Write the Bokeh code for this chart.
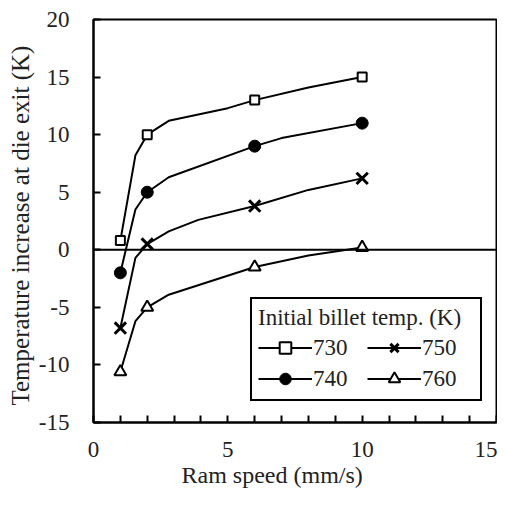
from bokeh.plotting import figure
from bokeh.models import (FixedTicker, Span, Legend, LegendItem, Title, Range1d)
from bokeh.embed import file_html
from bokeh.resources import INLINE

# ---- data ----
ram_speed = [1, 2, 6, 10]
t730 = [0.8, 10.0, 13.0, 15.0]
t740 = [-2.0, 5.0, 9.0, 11.0]
t750 = [-6.8, 0.5, 3.8, 6.2]
t760 = [-10.6, -5.0, -1.5, 0.2]

# smooth guide curves drawn through the points
c730_x = [1.0, 1.56, 2.0, 2.8, 5.0, 6.0, 8.0, 10.0]
c730_y = [0.8, 8.2, 10.0, 11.2, 12.3, 13.0, 14.1, 15.0]
c740_x = [1.0, 1.56, 2.0, 2.8, 6.0, 7.0, 10.0]
c740_y = [-2.0, 3.5, 5.0, 6.3, 9.0, 9.7, 11.0]
c750_x = [1.0, 1.56, 2.0, 2.8, 3.9, 6.0, 8.0, 10.0]
c750_y = [-6.8, -0.7, 0.5, 1.6, 2.6, 3.8, 5.2, 6.2]
c760_x = [1.0, 1.56, 2.0, 2.8, 6.0, 8.0, 10.0]
c760_y = [-10.6, -6.2, -5.0, -3.9, -1.5, -0.5, 0.2]

x_ticks = [0, 5, 10, 15]
x_minor = [1, 2, 3, 4, 6, 7, 8, 9, 11, 12, 13, 14]
y_ticks = [-15, -10, -5, 0, 5, 10, 15, 20]
y_tick_labels = ["-15", "-10", "-5", "0", "5", "10", "15", "20"]

FONT = "Liberation Serif"
TXT = "#222222"

p = figure(frame_width=403, frame_height=403, output_backend="svg", toolbar_location=None,
           x_range=Range1d(0, 15), y_range=Range1d(-15, 20),
           min_border_left=93, min_border_right=1, min_border_top=19,
           min_border_bottom=84)
p.grid.visible = False
p.outline_line_color = "black"
p.outline_line_width = 2
p.background_fill_color = "white"
p.border_fill_color = "white"

for ax in (p.xaxis[0], p.yaxis[0]):
    ax.axis_line_width = 2
    ax.axis_line_color = "black"
    ax.major_tick_in = 7
    ax.major_tick_out = 0
    ax.major_tick_line_width = 2
    ax.major_tick_line_color = "black"
    ax.major_label_text_font = FONT
    ax.major_label_text_font_size = "23px"
    ax.major_label_text_color = TXT

p.xaxis.ticker = FixedTicker(ticks=x_ticks, minor_ticks=x_minor)
p.xaxis.minor_tick_in = 7
p.xaxis.minor_tick_out = 0
p.xaxis.minor_tick_line_width = 2
p.xaxis.minor_tick_line_color = "black"
p.xaxis.major_label_standoff = 19

p.yaxis.ticker = FixedTicker(ticks=y_ticks, minor_ticks=[])
p.yaxis.major_label_overrides = {t: s for t, s in zip(y_ticks, y_tick_labels)}
p.yaxis.minor_tick_in = 0
p.yaxis.minor_tick_out = 0
p.yaxis.major_label_standoff = 24

# axis titles
p.add_layout(Title(text="Temperature increase at die exit (K)", align="left", offset=17,
                   text_font=FONT, text_font_size="25px", text_font_style="normal",
                   text_color=TXT, standoff=4), "left")
p.add_layout(Title(text="Ram speed  (mm/s)", align="left", offset=88,
                   text_font=FONT, text_font_size="24px", text_font_style="normal",
                   text_color=TXT, standoff=0), "below")

# zero line
p.add_layout(Span(location=0, dimension="width", line_color="black", line_width=2))

LW = 2
l1 = p.line(c730_x, c730_y, line_color="black", line_width=LW)
l2 = p.line(c740_x, c740_y, line_color="black", line_width=LW)
l3 = p.line(c750_x, c750_y, line_color="black", line_width=LW)
l4 = p.line(c760_x, c760_y, line_color="black", line_width=LW)

m1 = p.scatter(ram_speed, t730, marker="square", size=9, fill_color="white",
               line_color="black", line_width=2)
m2 = p.scatter(ram_speed, t740, marker="circle", size=12, fill_color="black",
               line_color="black", line_width=1)
m3 = p.scatter(ram_speed, t750, marker="x", size=16, line_color="black", line_width=3)
m4 = p.scatter(ram_speed, t760, marker="triangle", size=12, fill_color="white",
               line_color="black", line_width=2)

legend = Legend(items=[
    LegendItem(label="730", renderers=[l1, m1]),
    LegendItem(label="740", renderers=[l2, m2]),
    LegendItem(label="750", renderers=[l3, m3]),
    LegendItem(label="760", renderers=[l4, m4]),
], ncols=2, location=(157, 21), title="Initial billet temp. (K)",
   title_text_font=FONT, title_text_font_size="23px", title_text_font_style="normal",
   title_text_color=TXT, title_standoff=2,
   label_text_font=FONT, label_text_font_size="23px", label_text_color=TXT,
   glyph_width=54, glyph_height=29, label_standoff=1, label_width=52,
   spacing=2, padding=6,
   border_line_color="black", border_line_width=2, border_line_alpha=1.0,
   background_fill_alpha=1.0, margin=0)
p.add_layout(legend, "center")

open("out.html", "w").write(file_html(p, INLINE))
